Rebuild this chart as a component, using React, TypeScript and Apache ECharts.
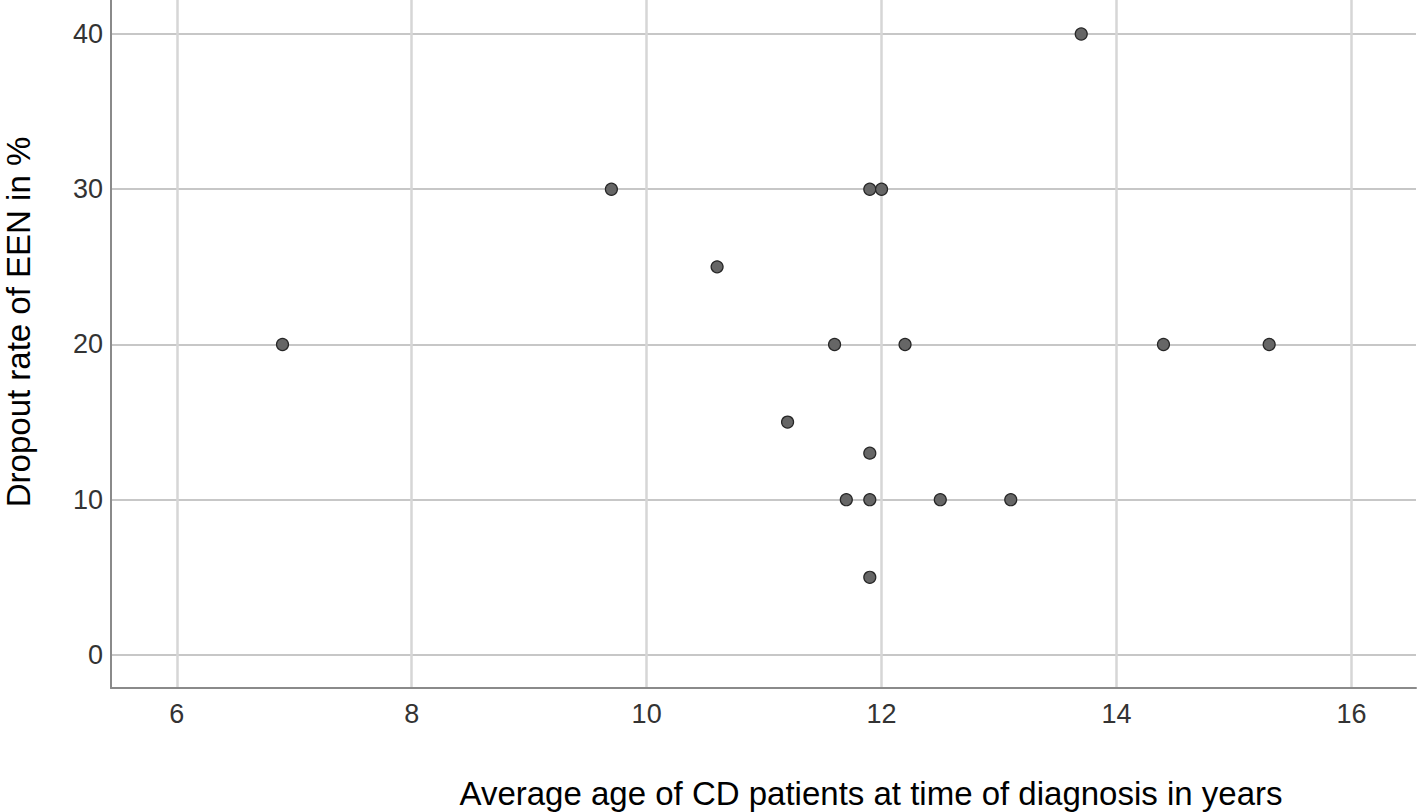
import React, { useEffect, useRef } from "react";
import * as echarts from "echarts";

const ageYears = [6.9, 9.7, 10.6, 11.2, 11.6, 11.7, 11.9, 12.0, 11.9, 11.9, 11.9, 12.2, 12.5, 13.1, 13.7, 14.4, 15.3];
const dropoutPct = [20, 30, 25, 15, 20, 10, 30, 30, 13, 10, 5, 20, 10, 10, 40, 20, 20];
const xTitle = "Average age of CD patients at time of diagnosis in years";
const yTitle = "Dropout rate of EEN in %";

export default function App() {
  const ref = useRef<HTMLDivElement>(null);
  useEffect(() => {
    if (!ref.current) return;
    const chart = echarts.init(ref.current, null, { renderer: "svg" });
    const points = ageYears.map((x, i) => [x, dropoutPct[i]]);
    chart.setOption({
      animation: false,
      backgroundColor: "#ffffff",
      grid: { left: 111, right: 8, top: 0, bottom: 124, containLabel: false },
      xAxis: {
        type: "value",
        min: 5.44,
        max: 16.55,
        splitNumber: 5,
        axisLine: { show: true, onZero: false, lineStyle: { color: "#8a8a8a", width: 2 } },
        axisTick: { show: false },
        axisLabel: {
          showMinLabel: false,
          showMaxLabel: false,
          margin: 12,
          color: "#333333",
          fontSize: 27,
          fontFamily: "Liberation Sans, Arial, sans-serif",
        },
        splitLine: {
          show: true,
          showMinLine: false,
          showMaxLine: false,
          lineStyle: { color: "#d6d6d6", width: 2.5 },
        },
      },
      yAxis: {
        type: "value",
        min: -2.13,
        max: 42.19,
        splitNumber: 5,
        axisLine: { show: true, onZero: false, lineStyle: { color: "#8a8a8a", width: 2 } },
        axisTick: { show: false },
        axisLabel: {
          showMinLabel: false,
          showMaxLabel: false,
          margin: 8,
          color: "#333333",
          fontSize: 27,
          fontFamily: "Liberation Sans, Arial, sans-serif",
        },
        splitLine: {
          show: true,
          showMinLine: false,
          showMaxLine: false,
          lineStyle: { color: "#b4b4b4", width: 1.5 },
        },
      },
      series: [
        {
          type: "scatter",
          data: points,
          symbol: "circle",
          symbolSize: 12,
          itemStyle: { color: "#666666", borderColor: "#262626", borderWidth: 1.2, opacity: 1 },
        },
      ],
      graphic: [
        {
          type: "text",
          x: 871,
          y: 793,
          style: {
            text: xTitle,
            fill: "#000000",
            font: "33px 'Liberation Sans', Arial, sans-serif",
            textAlign: "center",
            textVerticalAlign: "middle",
          },
        },
        {
          type: "text",
          x: 18,
          y: 322,
          rotation: Math.PI / 2,
          style: {
            text: yTitle,
            fill: "#000000",
            font: "33px 'Liberation Sans', Arial, sans-serif",
            textAlign: "center",
            textVerticalAlign: "middle",
          },
        },
      ],
    });
    return () => chart.dispose();
  }, []);
  return (
    <div
      ref={ref}
      style={{ position: "fixed", left: 0, top: 0, width: 1424, height: 812, background: "#fff" }}
    />
  );
}
